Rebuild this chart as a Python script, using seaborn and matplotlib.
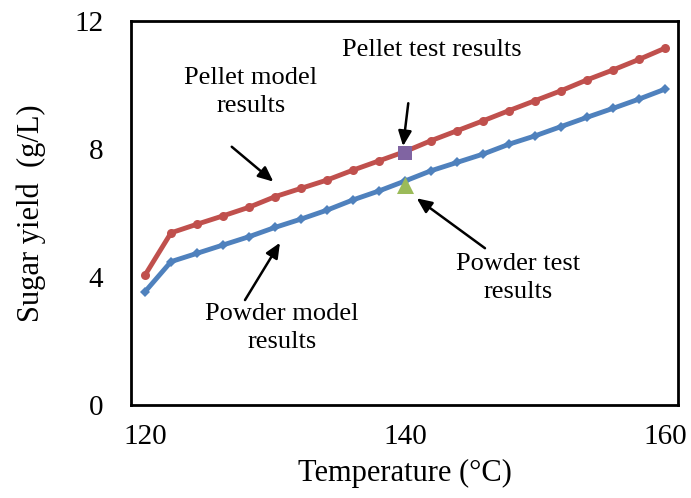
import matplotlib
matplotlib.use("Agg")
import matplotlib.pyplot as plt
import seaborn as sns
import pandas as pd

# Temperatures (°C) for the model curves
temperature = [120, 122, 124, 126, 128, 130, 132, 134, 136, 138, 140,
               142, 144, 146, 148, 150, 152, 154, 156, 158, 160]
# Model predictions of sugar yield (g/L)
pellet_model = [4.06, 5.38, 5.65, 5.91, 6.18, 6.51, 6.77, 7.03, 7.34, 7.63, 7.92,
                8.26, 8.57, 8.88, 9.20, 9.51, 9.82, 10.16, 10.47, 10.80, 11.15]
powder_model = [3.54, 4.48, 4.74, 5.00, 5.26, 5.55, 5.81, 6.09, 6.41, 6.69, 7.00,
                7.32, 7.58, 7.84, 8.15, 8.41, 8.70, 8.99, 9.27, 9.56, 9.87]
# Experimental results at 140 °C
test_temperature = [140]
pellet_test = [7.88]
powder_test = [6.88]

x_ticks = [120, 140, 160]
y_ticks = [0, 4, 8, 12]

sns.set_style("white")
plt.rcParams["font.family"] = ["Liberation Serif", "DejaVu Serif"]
plt.rcParams["text.color"] = "black"
plt.rcParams["axes.labelcolor"] = "black"
plt.rcParams["xtick.color"] = "black"
plt.rcParams["ytick.color"] = "black"

RED = "#C0504D"
BLUE = "#4F81BD"
PURPLE = "#8064A2"
GREEN = "#9BBB59"

fig = plt.figure(figsize=(6.91, 4.98), dpi=100)
ax = fig.add_axes([131 / 691, 1 - 405 / 498, (678 - 131) / 691, (405 - 21) / 498])

models = pd.DataFrame({"T": temperature, "pellet": pellet_model, "powder": powder_model})
sns.lineplot(data=models, x="T", y="pellet", ax=ax, color=RED, lw=3.5,
             marker="o", markersize=6.5, markeredgewidth=0, zorder=3)
sns.lineplot(data=models, x="T", y="powder", ax=ax, color=BLUE, lw=3.5,
             marker="D", markersize=5, markeredgewidth=0, zorder=3)

sns.scatterplot(x=test_temperature, y=pellet_test, ax=ax, color=PURPLE,
                marker="s", s=105, linewidth=0, zorder=4)
sns.scatterplot(x=test_temperature, y=powder_test, ax=ax, color=GREEN,
                marker="^", s=150, linewidth=0, zorder=4)

ax.set_xlim(118.92, 161.0)
ax.set_ylim(0, 12)
ax.set_xticks(x_ticks)
ax.set_yticks(y_ticks)
ax.tick_params(axis="y", direction="in", length=6, width=1.5, labelsize=21, pad=20)
ax.tick_params(axis="x", length=0, labelsize=21, pad=14)
for side in ["left", "right", "top", "bottom"]:
    ax.spines[side].set_visible(True)
    ax.spines[side].set_color("black")
    ax.spines[side].set_linewidth(2)

ax.set_xlabel("Temperature (°C)", fontsize=22, labelpad=6)
ax.set_ylabel("Sugar yield  (g/L)", fontsize=22, labelpad=20)

label_kw = dict(fontsize=19, ha="center", va="center", linespacing=1.35)
ax.text(128.15, 9.79, "Pellet model\nresults", **label_kw)
ax.text(142.08, 11.09, "Pellet test results", **label_kw)
ax.text(130.54, 2.41, "Powder model\nresults", **label_kw)
ax.text(148.69, 3.97, "Powder test\nresults", **label_kw)

arrow_kw = dict(arrowstyle="-|>,head_length=0.9,head_width=0.4", color="black", lw=1.8,
                shrinkA=0, shrinkB=0)
ax.annotate("", xy=(129.87, 6.98), xytext=(126.67, 8.07), arrowprops=arrow_kw)
ax.annotate("", xy=(139.85, 8.09), xytext=(140.25, 9.43), arrowprops=arrow_kw)
ax.annotate("", xy=(130.38, 5.07), xytext=(127.69, 3.28), arrowprops=arrow_kw)
ax.annotate("", xy=(140.90, 6.46), xytext=(146.15, 4.90), arrowprops=arrow_kw)

fig.savefig("out.png", dpi=100)
